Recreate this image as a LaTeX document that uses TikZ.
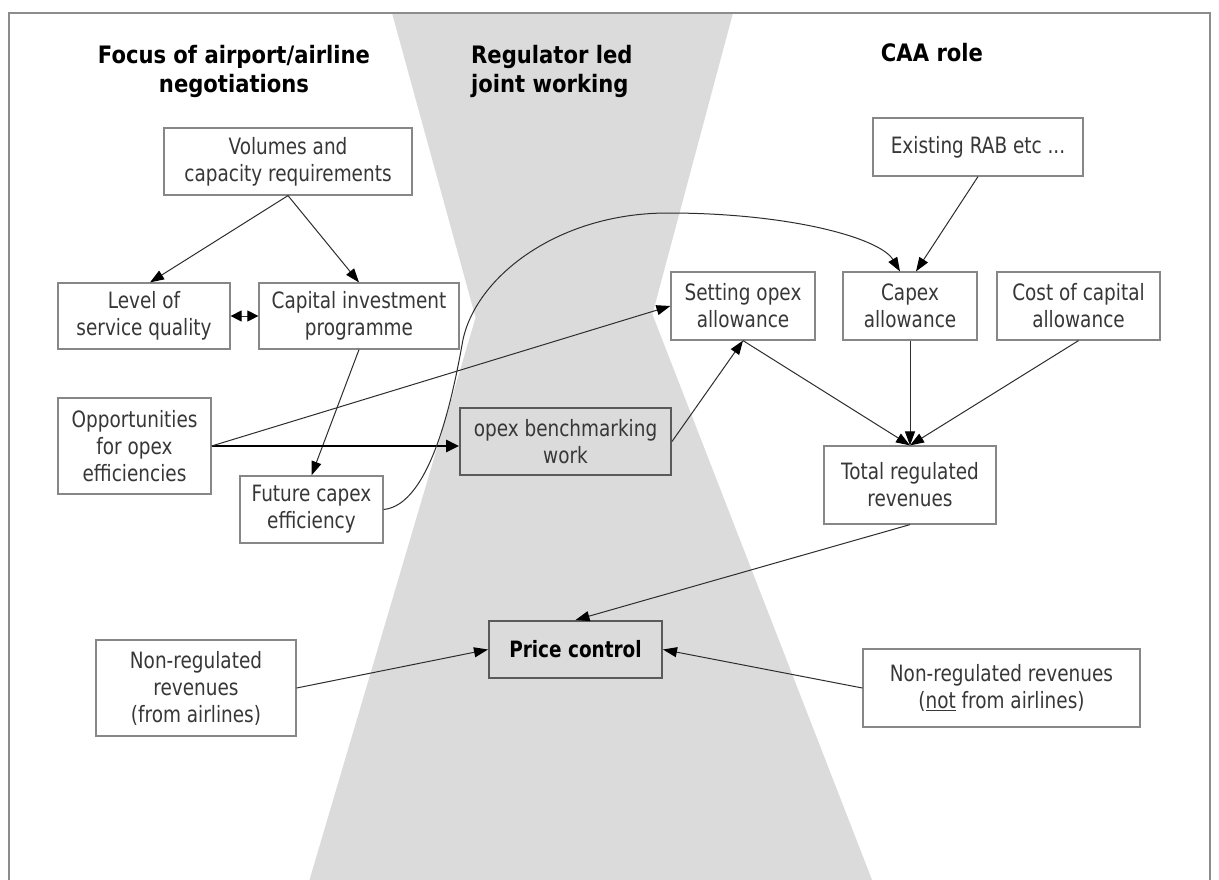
\documentclass[tikz,border=0pt]{standalone}
\usepackage{fontspec}
\setmainfont{DejaVu Sans}[FakeStretch=0.82]
\newfontfamily\titlefont{DejaVu Sans}[FakeStretch=0.88]
\usetikzlibrary{arrows.meta}
\definecolor{bggray}{RGB}{219,219,219}
\definecolor{boxline}{RGB}{135,135,135}
\definecolor{darkline}{RGB}{90,90,90}
\definecolor{boxtext}{RGB}{55,55,55}
\definecolor{connc}{RGB}{45,45,45}
\definecolor{framegray}{RGB}{140,140,140}
\begin{document}
\begin{tikzpicture}[x=1pt,y=-1pt,
  box/.style={draw=boxline, line width=1.2pt, fill=white, inner sep=0pt, align=center,
    text=boxtext, font=\fontsize{22.5}{27}\selectfont},
  darkbox/.style={box, draw=darkline, line width=2pt, fill=bggray},
  titletext/.style={inner sep=0pt, text=black, font=\titlefont\bfseries\fontsize{24}{29}\selectfont},
  conn/.style={draw=connc, line width=1pt, -{Triangle[length=14pt,width=10pt,color=black]}},
  dblconn/.style={draw=connc, line width=1pt, {Triangle[length=11pt,width=11pt,color=black]}-{Triangle[length=11pt,width=11pt,color=black]}},
  thickconn/.style={draw=black, line width=2.6pt, -{Triangle[length=13pt,width=12pt]}}
]
\useasboundingbox (0,0) rectangle (1219,879);
\fill[white] (0,0) rectangle (1219,879);
% hourglass background
\fill[bggray] (392,13) -- (475.6,317.6) -- (308,885) -- (874,885) -- (652.4,314.3) -- (733,13) -- cycle;
% frame
\draw[framegray, line width=1.5pt] (9,13) rectangle (1210,900);

% titles
\node[titletext, align=center] (t1) at (234,71) {Focus of airport/airline\\negotiations};
\node[titletext, align=left, anchor=west] (t2) at (471,71) {Regulator led\\joint working};
\node[titletext, anchor=base] (t3) at (932,61) {CAA role};

% boxes
\node[box, minimum width=248, minimum height=67] (vol) at (288,161.5) {Volumes and\\capacity requirements};
\node[box, minimum width=172, minimum height=66] (level) at (144,316) {Level of\\service quality};
\node[box, minimum width=200, minimum height=66] (capinv) at (359,316) {Capital investment\\programme};
\node[box, minimum width=153, minimum height=96] (opp) at (134.5,446) {Opportunities\\for opex\\efficiencies};
\node[box, minimum width=143, minimum height=67] (fut) at (311.5,509.5) {Future capex\\efficiency};
\node[darkbox, minimum width=211, minimum height=67] (bench) at (565.5,441.5) {opex benchmarking\\work};
\node[box, minimum width=210, minimum height=58] (rab) at (978,147) {Existing RAB etc ...};
\node[box, minimum width=144, minimum height=68] (setop) at (743,306) {Setting opex\\allowance};
\node[box, minimum width=134, minimum height=68] (capex) at (910,306) {Capex\\allowance};
\node[box, minimum width=163, minimum height=68] (cost) at (1078.5,306) {Cost of capital\\allowance};
\node[box, minimum width=172, minimum height=78] (total) at (910,485) {Total regulated\\revenues};
\node[darkbox, minimum width=173, minimum height=57, text=black] (price) at (575.5,649.5) {\bfseries Price control};
\node[box, minimum width=200, minimum height=96] (nra) at (196,688) {Non-regulated\\revenues\\(from airlines)};
\node[box, minimum width=277, minimum height=78] (nrn) at (1001.5,688) {Non-regulated revenues\\(\underline{not} from airlines)};

% connectors
\draw[conn] (vol.south) -- ([xshift=6pt]level.north);
\draw[conn] (vol.south) -- (capinv.north);
\draw[dblconn] (level.east) -- (capinv.west);
\draw[conn] (capinv.south) -- (fut.north);
\draw[thickconn] (opp.east) -- (opp.east -| bench.west);
\draw[conn] (opp.east) -- (setop.west);
\draw[conn] (bench.east) -- (setop.south);
\draw[conn] (rab.south) -- ([xshift=6pt]capex.north);
\draw[conn] (fut.east) .. controls (430,505) and (452,400) .. (462,345)
  .. controls (472,280) and (555,213) .. (668,213)
  .. controls (790,213) and (880,238) .. ([xshift=-10pt]capex.north);
\draw[conn] (setop.south) -- (total.north);
\draw[conn] (capex.south) -- (total.north);
\draw[conn] (cost.south) -- (total.north);
\draw[conn] (total.south) -- (price.north);
\draw[conn] (nra.east) -- (price.west);
\draw[conn] (nrn.west) -- (price.east);
\end{tikzpicture}
\end{document}
